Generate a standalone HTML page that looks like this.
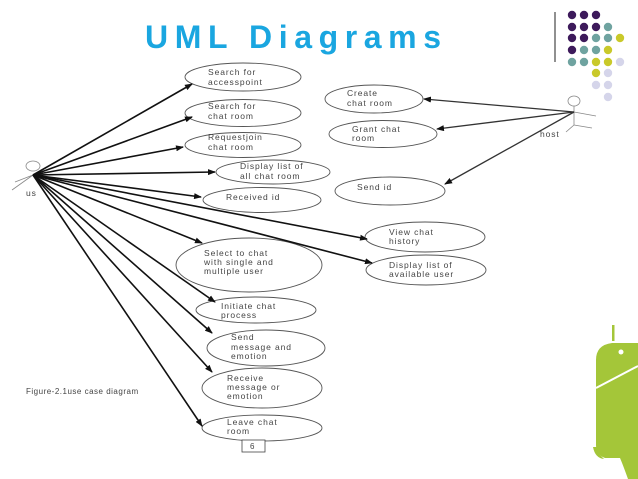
<!DOCTYPE html>
<html><head><style>
html,body{margin:0;padding:0;background:#fff;width:638px;height:479px;overflow:hidden}
svg{display:block}
text{font-family:"Liberation Sans",sans-serif}
.t{font-size:8.5px;letter-spacing:0.9px;fill:#444}
</style></head><body>
<svg width="638" height="479" viewBox="0 0 638 479">
<defs><marker id="a" markerWidth="8" markerHeight="6" refX="7" refY="3" orient="auto" markerUnits="userSpaceOnUse"><path d="M0,0 L8,3 L0,6 z" fill="#111"/></marker></defs>
<text x="145" y="48" font-size="32" font-weight="bold" fill="#1aa6e0" textLength="296" lengthAdjust="spacing">UML Diagrams</text>
<line x1="555" y1="12" x2="555" y2="62" stroke="#222" stroke-width="1"/>
<g>
<circle cx="572" cy="15" r="4.2" fill="#3d1a5b"/><circle cx="584" cy="15" r="4.2" fill="#3d1a5b"/><circle cx="596" cy="15" r="4.2" fill="#3d1a5b"/>
<circle cx="572" cy="27" r="4.2" fill="#3d1a5b"/><circle cx="584" cy="27" r="4.2" fill="#3d1a5b"/><circle cx="596" cy="27" r="4.2" fill="#3d1a5b"/><circle cx="608" cy="27" r="4.2" fill="#6fa3a0"/>
<circle cx="572" cy="38" r="4.2" fill="#3d1a5b"/><circle cx="584" cy="38" r="4.2" fill="#3d1a5b"/><circle cx="596" cy="38" r="4.2" fill="#6fa3a0"/><circle cx="608" cy="38" r="4.2" fill="#6fa3a0"/><circle cx="620" cy="38" r="4.2" fill="#c9c92a"/>
<circle cx="572" cy="50" r="4.2" fill="#3d1a5b"/><circle cx="584" cy="50" r="4.2" fill="#6fa3a0"/><circle cx="596" cy="50" r="4.2" fill="#6fa3a0"/><circle cx="608" cy="50" r="4.2" fill="#c9c92a"/>
<circle cx="572" cy="62" r="4.2" fill="#6fa3a0"/><circle cx="584" cy="62" r="4.2" fill="#6fa3a0"/><circle cx="596" cy="62" r="4.2" fill="#c9c92a"/><circle cx="608" cy="62" r="4.2" fill="#c9c92a"/><circle cx="620" cy="62" r="4.2" fill="#d5d5ea"/>
<circle cx="596" cy="73" r="4.2" fill="#c9c92a"/><circle cx="608" cy="73" r="4.2" fill="#d5d5ea"/>
<circle cx="596" cy="85" r="4.2" fill="#d5d5ea"/><circle cx="608" cy="85" r="4.2" fill="#d5d5ea"/>
<circle cx="608" cy="97" r="4.2" fill="#d5d5ea"/>
</g>
<!-- android -->
<g fill="#a4c639">
<rect x="612" y="325" width="2.5" height="16"/>
<path d="M596,360 Q596,345 612,343 L638,343 L638,479 L628,479 Q623,465 620,458 L605,458 Q596,455 596,445 Z"/>
<path d="M593,447 Q595,458 604,459 L600,455 Q597,452 597,447 Z"/>
</g>
<circle cx="621" cy="352" r="2.5" fill="#fff"/>
<line x1="596" y1="388" x2="638" y2="366" stroke="#fff" stroke-width="2"/>
<!-- ellipses -->
<g fill="#fff" stroke="#555" stroke-width="0.9">
<ellipse cx="243" cy="77" rx="58" ry="14"/>
<ellipse cx="243" cy="113" rx="58" ry="13.5"/>
<ellipse cx="243" cy="145" rx="58" ry="12.5"/>
<ellipse cx="273" cy="172" rx="57" ry="12"/>
<ellipse cx="262" cy="200" rx="59" ry="12.5"/>
<ellipse cx="249" cy="265" rx="73" ry="27"/>
<ellipse cx="256" cy="310" rx="60" ry="13"/>
<ellipse cx="266" cy="348" rx="59" ry="18"/>
<ellipse cx="262" cy="388" rx="60" ry="20"/>
<ellipse cx="262" cy="428" rx="60" ry="13"/>
<ellipse cx="374" cy="99" rx="49" ry="14"/>
<ellipse cx="383" cy="134" rx="54" ry="13.5"/>
<ellipse cx="390" cy="191" rx="55" ry="14"/>
<ellipse cx="425" cy="237" rx="60" ry="15"/>
<ellipse cx="426" cy="270" rx="60" ry="15"/>
</g>
<rect x="242" y="440" width="23" height="12" fill="#fff" stroke="#444" stroke-width="0.8"/>
<text x="250" y="449" font-size="8" fill="#444">6</text>
<!-- user actor -->
<g stroke="#888" stroke-width="0.8" fill="none">
<ellipse cx="33" cy="166" rx="7" ry="5"/>
<line x1="33" y1="175" x2="12" y2="190"/><line x1="33" y1="175" x2="15" y2="182"/>
<ellipse cx="574" cy="101" rx="6" ry="5"/>
<line x1="574" y1="106" x2="574" y2="125"/><line x1="574" y1="112" x2="596" y2="116"/>
<line x1="574" y1="125" x2="592" y2="128"/><line x1="574" y1="125" x2="566" y2="132"/>
</g>
<text x="26" y="196" class="t" font-size="7">us</text>
<text x="540" y="137" class="t" font-size="7.5">host</text>
<!-- user arrows -->
<g stroke="#111" stroke-width="1.6" marker-end="url(#a)">
<line x1="33" y1="175" x2="192" y2="84"/>
<line x1="33" y1="175" x2="192" y2="117"/>
<line x1="33" y1="175" x2="183" y2="147"/>
<line x1="33" y1="175" x2="215" y2="172"/>
<line x1="33" y1="175" x2="201" y2="197"/>
<line x1="33" y1="175" x2="367" y2="239"/>
<line x1="33" y1="175" x2="372" y2="263"/>
<line x1="33" y1="175" x2="202" y2="243"/>
<line x1="33" y1="175" x2="215" y2="302"/>
<line x1="33" y1="175" x2="212" y2="333"/>
<line x1="33" y1="175" x2="212" y2="372"/>
<line x1="33" y1="175" x2="202" y2="426"/>
</g>
<g stroke="#333" stroke-width="1.3" marker-end="url(#a)">
<line x1="574" y1="112" x2="424" y2="99"/>
<line x1="574" y1="112" x2="437" y2="129"/>
<line x1="574" y1="112" x2="445" y2="184"/>
</g>
<!-- labels -->
<g class="t">
<text x="208" y="75">Search for</text><text x="208" y="85">accesspoint</text>
<text x="208" y="109">Search for</text><text x="208" y="119">chat room</text>
<text x="208" y="140">Requestjoin</text><text x="208" y="150">chat room</text>
<text x="240" y="169">Display list of</text><text x="240" y="179">all chat room</text>
<text x="226" y="200">Received id</text>
<text x="204" y="256">Select to chat</text><text x="204" y="265">with single and</text><text x="204" y="274">multiple user</text>
<text x="221" y="309">Initiate chat</text><text x="221" y="318">process</text>
<text x="231" y="340">Send</text><text x="231" y="350">message and</text><text x="231" y="359">emotion</text>
<text x="227" y="381">Receive</text><text x="227" y="390">message or</text><text x="227" y="399">emotion</text>
<text x="227" y="425">Leave chat</text><text x="227" y="434">room</text>
<text x="347" y="96">Create</text><text x="347" y="106">chat room</text>
<text x="352" y="132">Grant chat</text><text x="352" y="141">room</text>
<text x="357" y="190">Send id</text>
<text x="389" y="235">View chat</text><text x="389" y="244">history</text>
<text x="389" y="268">Display list of</text><text x="389" y="277">available user</text>
<text x="26" y="394" font-size="8" letter-spacing="0.5">Figure-2.1use case diagram</text>
</g>
</svg>
</body></html>
